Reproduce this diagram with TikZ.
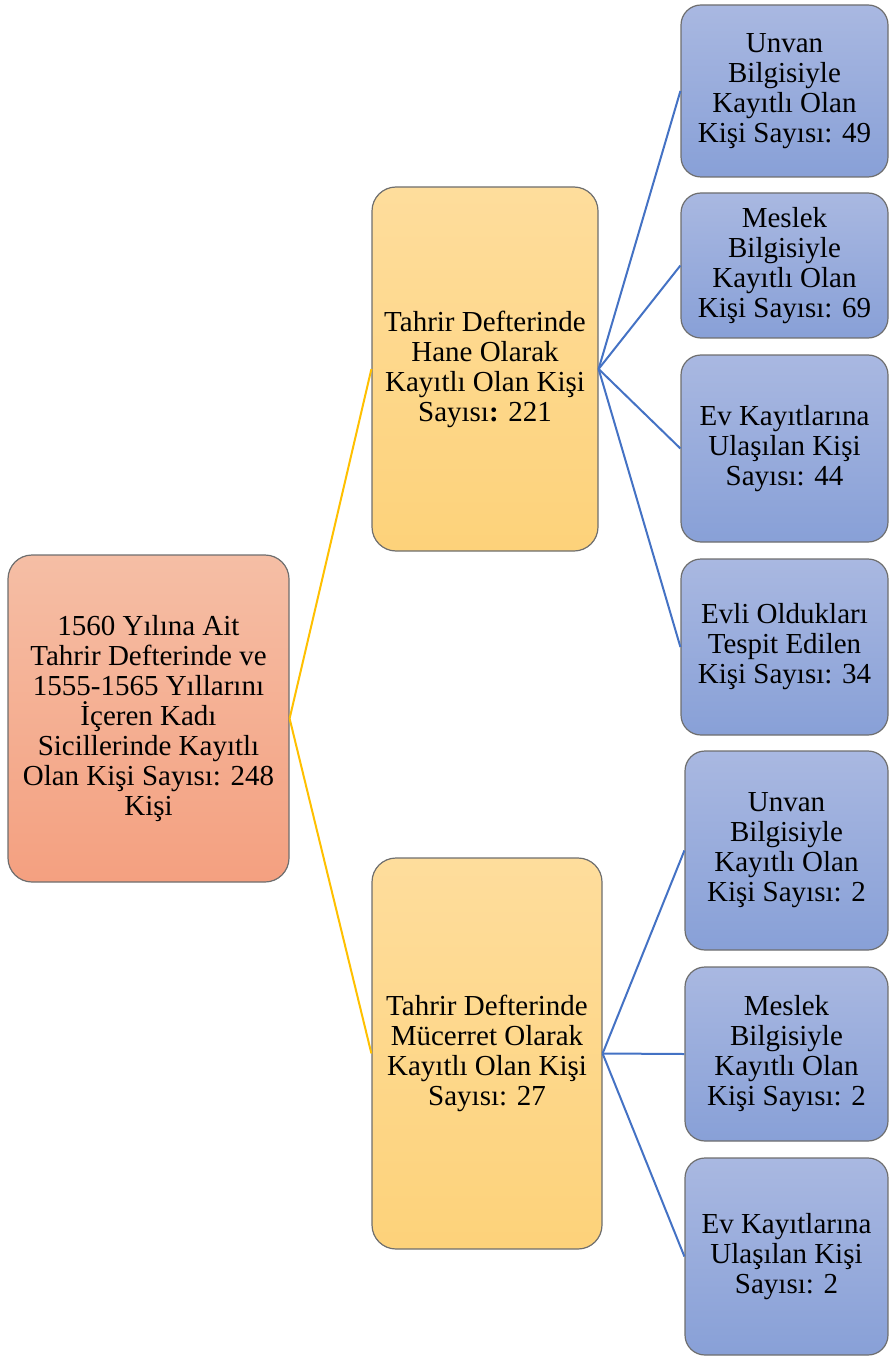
\documentclass[tikz,border=0pt]{standalone}
\usepackage{fontspec}
\setmainfont{Liberation Serif}
\usepackage{tikz}
\usetikzlibrary{positioning}

\definecolor{kokust}{RGB}{245,190,165}
\definecolor{kokalt}{RGB}{244,160,128}
\definecolor{sariust}{RGB}{254,221,156}
\definecolor{sarialt}{RGB}{253,210,122}
\definecolor{maviust}{RGB}{169,184,225}
\definecolor{mavialt}{RGB}{136,160,215}
\definecolor{kenar}{RGB}{110,110,110}
\definecolor{sariyol}{RGB}{255,192,0}
\definecolor{maviyol}{RGB}{68,114,196}

\begin{document}
\begin{tikzpicture}[x=0.5pt, y=-0.5pt,
    every node/.style={font=\fontsize{14.5}{15}\selectfont, align=center, inner sep=0pt},
    kutu/.style={draw=kenar, line width=0.6pt, rounded corners=12pt},
    kok/.style={kutu, top color=kokust, bottom color=kokalt},
    orta/.style={kutu, top color=sariust, bottom color=sarialt},
    yaprak/.style={kutu, rounded corners=10pt, top color=maviust, bottom color=mavialt},
    sarihat/.style={draw=sariyol, line width=1pt},
    mavihat/.style={draw=maviyol, line width=1pt}]

    \useasboundingbox (0,0) rectangle (889,1358);

    % Nodes
    \node[kok, minimum width=140.5pt, minimum height=163.5pt] at (148.5,718.5) (root)
        {1560 Yılına Ait\\Tahrir Defterinde ve\\1555-1565 Yıllarını\\İçeren Kadı\\Sicillerinde Kayıtlı\\Olan Kişi Sayısı: 248\\Kişi};
    \node[orta, minimum width=113pt, minimum height=182pt] at (485,369) (hane)
        {Tahrir Defterinde\\Hane Olarak\\Kayıtlı Olan Kişi\\Sayısı\textbf{:} 221};
    \node[orta, minimum width=115pt, minimum height=195.5pt] at (487,1053.5) (mucerret)
        {Tahrir Defterinde\\Mücerret Olarak\\Kayıtlı Olan Kişi\\Sayısı: 27};

    \node[yaprak, minimum width=103.5pt, minimum height=86pt] at (784.5,91) (hane1)
        {Unvan\\Bilgisiyle\\Kayıtlı Olan\\Kişi Sayısı: 49};
    \node[yaprak, minimum width=103.5pt, minimum height=72.5pt] at (784.5,265.5) (hane2)
        {Meslek\\Bilgisiyle\\Kayıtlı Olan\\Kişi Sayısı: 69};
    \node[yaprak, minimum width=103.5pt, minimum height=93.5pt] at (784.5,448.5) (hane3)
        {Ev Kayıtlarına\\Ulaşılan Kişi\\Sayısı: 44};
    \node[yaprak, minimum width=103.5pt, minimum height=88pt] at (784.5,647) (hane4)
        {Evli Oldukları\\Tespit Edilen\\Kişi Sayısı: 34};

    \node[yaprak, minimum width=101.5pt, minimum height=99.5pt] at (786.5,850.5) (muc1)
        {Unvan\\Bilgisiyle\\Kayıtlı Olan\\Kişi Sayısı: 2};
    \node[yaprak, minimum width=101.5pt, minimum height=87pt] at (786.5,1054) (muc2)
        {Meslek\\Bilgisiyle\\Kayıtlı Olan\\Kişi Sayısı: 2};
    \node[yaprak, minimum width=101.5pt, minimum height=98.5pt] at (786.5,1256.5) (muc3)
        {Ev Kayıtlarına\\Ulaşılan Kişi\\Sayısı: 2};

    % Lines
    \draw[sarihat] (root.east) -- (hane.west);
    \draw[sarihat] (root.east) -- (mucerret.west);
    \foreach \n in {hane1,hane2,hane3,hane4}
        \draw[mavihat] (hane.east) -- (\n.west);
    \foreach \n in {muc1,muc2,muc3}
        \draw[mavihat] (mucerret.east) -- (\n.west);

\end{tikzpicture}
\end{document}
